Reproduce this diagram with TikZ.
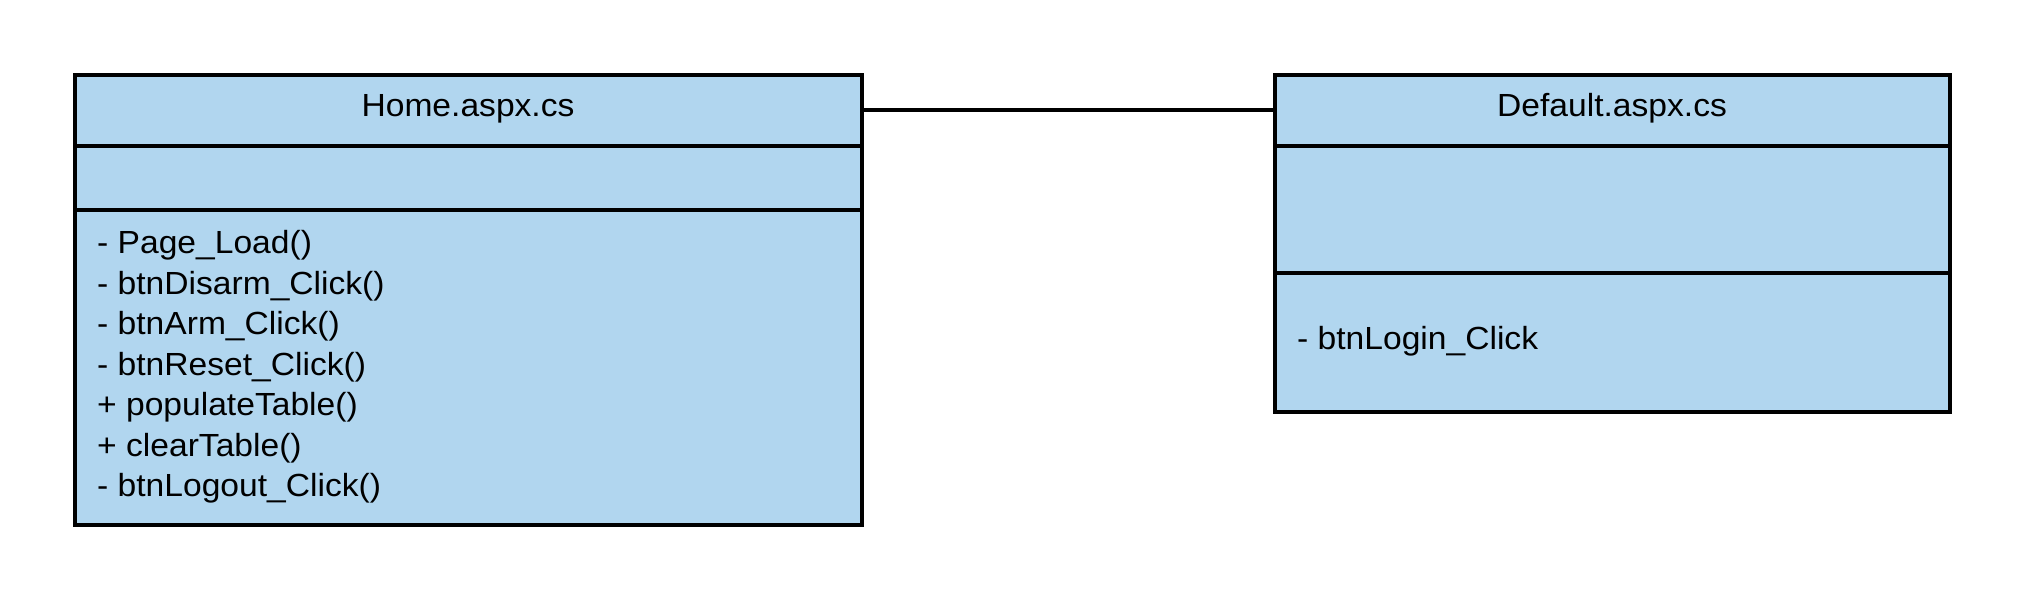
\documentclass[tikz,border=0pt]{standalone}
\usepackage{fontspec}
\setmainfont[FakeStretch=1.05]{Liberation Sans}
\definecolor{umlfill}{HTML}{B1D6EF}
\begin{document}
\begin{tikzpicture}[x=1pt,y=-1pt,
  compart/.style={draw=black, fill=umlfill, line width=4pt, rectangle, inner sep=0pt, outer sep=0pt, anchor=north west},
  lbl/.style={font=\fontsize{32}{40.5}\selectfont, inner sep=0pt, text=black},
  link/.style={draw=black, line width=4pt}
]
\useasboundingbox (0,0) rectangle (2025,600);
% Home.aspx.cs class
\node[compart, minimum width=787pt, minimum height=71.5pt] (homeT) at (74.5,74.5) {};
\node[compart, minimum width=787pt, minimum height=63.5pt] (homeA) at (74.5,146) {};
\node[compart, minimum width=787pt, minimum height=315pt] (homeM) at (74.5,209.5) {};
% Default.aspx.cs class
\node[compart, minimum width=675pt, minimum height=71.5pt] (defT) at (1274.5,74.5) {};
\node[compart, minimum width=675pt, minimum height=126.5pt] (defA) at (1274.5,146) {};
\node[compart, minimum width=675pt, minimum height=139.5pt] (defM) at (1274.5,272.5) {};
% titles
\node[lbl, anchor=base] (homeName) at (468,116.7) {Home.aspx.cs};
\node[lbl, anchor=base] (defName) at (1612,116.7) {Default.aspx.cs};
% methods
\node[lbl, anchor=base west] (m1) at (97,253.7) {- Page\_Load()};
\node[lbl, anchor=base west] (m2) at (97,294.2) {- btnDisarm\_Click()};
\node[lbl, anchor=base west] (m3) at (97,334.7) {- btnArm\_Click()};
\node[lbl, anchor=base west] (m4) at (97,375.2) {- btnReset\_Click()};
\node[lbl, anchor=base west] (m5) at (97,415.7) {+ populateTable()};
\node[lbl, anchor=base west] (m6) at (97,456.2) {+ clearTable()};
\node[lbl, anchor=base west] (m7) at (97,496.7) {- btnLogout\_Click()};
\node[lbl, anchor=base west] (d1) at (1297,349) {- btnLogin\_Click};
% association
\draw[link] (homeT.east) -- (defT.west);
\end{tikzpicture}
\end{document}
